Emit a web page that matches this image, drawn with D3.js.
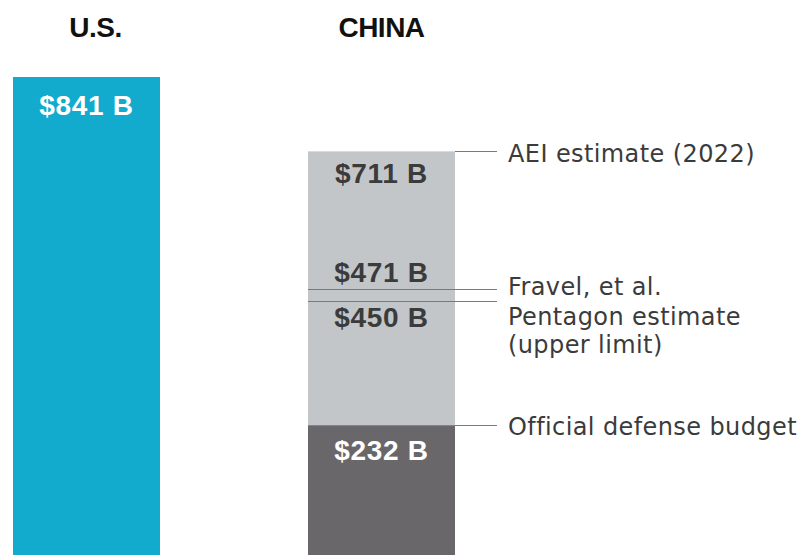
<!DOCTYPE html>
<html>
<head>
<meta charset="utf-8">
<script src="https://cdn.jsdelivr.net/npm/d3@7"></script>
<style>
  html, body { margin: 0; padding: 0; background: #ffffff; }
  svg { display: block; }
</style>
</head>
<body>
<svg id="chart" width="804" height="555"></svg>
<script>
// ---- data ----
const categories = ["U.S.", "CHINA"];
const usValues = [841];
const chinaValues = [711, 471, 450, 232];
const chinaLabels = [["AEI estimate (2022)"], ["Fravel, et al."], ["Pentagon estimate", "(upper limit)"], ["Official defense budget"]];
const chinaLabelKinds = ["edge", "cross", "cross", "edge"];

// ---- layout ----
const W = 804, H = 555;
const svg = d3.select("#chart");
const x = d3.scaleBand().domain(categories).range([13, 455]).paddingInner(0.5017).paddingOuter(0);
const y = d3.scaleLinear().domain([0, 841]).range([558, 77]);

const colUS = "#12abcd", colLight = "#c3c6c9", colDark = "#6a676b";
const txtDark = "#3b3b3b", lineCol = "#7a7a7a";
const fmt = v => "$" + v + " B";

// titles
const titleOffset = { "U.S.": 9, "CHINA": 0 };
svg.selectAll("text.title").data(categories).join("text")
  .attr("class", "title")
  .attr("x", d => x(d) + x.bandwidth() / 2 + titleOffset[d])
  .attr("y", 37)
  .attr("text-anchor", "middle")
  .attr("font-family", "'Liberation Sans', Arial, sans-serif")
  .attr("font-weight", "bold")
  .attr("font-size", 28)
  .attr("letter-spacing", -0.5)
  .attr("fill", "#111")
  .text(d => d);

// US bar
svg.selectAll("rect.us").data(usValues).join("rect")
  .attr("class", "us")
  .attr("x", x("U.S."))
  .attr("width", x.bandwidth())
  .attr("y", d => y(d))
  .attr("height", d => y(0) - y(d))
  .attr("fill", colUS);

// China bars: light full estimate and dark official
const chinaMax = d3.max(chinaValues);
const chinaMin = d3.min(chinaValues);
svg.append("rect")
  .attr("x", x("CHINA")).attr("width", x.bandwidth())
  .attr("y", y(chinaMax)).attr("height", y(0) - y(chinaMax))
  .attr("fill", colLight);
svg.append("rect")
  .attr("x", x("CHINA")).attr("width", x.bandwidth())
  .attr("y", y(chinaMin)).attr("height", y(0) - y(chinaMin))
  .attr("fill", colDark);

// connector lines
const lineEnd = 497;
chinaValues.forEach((v, i) => {
  const kind = chinaLabelKinds[i];
  const x0 = kind === "edge" ? x("CHINA") + x.bandwidth() : x("CHINA");
  svg.append("line")
    .attr("x1", x0).attr("x2", lineEnd)
    .attr("y1", Math.round(y(v)) + 0.5).attr("y2", Math.round(y(v)) + 0.5)
    .attr("stroke", lineCol).attr("stroke-width", 1);
});

// annotation labels
const labelDy = [11, 6, 24, 10];
chinaLabels.forEach((lines, i) => {
  const t = svg.append("text")
    .attr("x", 508)
    .attr("y", y(chinaValues[i]) + labelDy[i])
    .attr("font-family", "'DejaVu Sans', sans-serif")
    .attr("font-size", 24)
    .attr("letter-spacing", 0.4)
    .attr("fill", txtDark);
  lines.forEach((ln, j) => {
    t.append("tspan").attr("x", 508).attr("dy", j === 0 ? 0 : 28).text(ln);
  });
});

// value labels
const valueFont = "'Liberation Sans', Arial, sans-serif";
svg.selectAll("text.usval").data(usValues).join("text")
  .attr("class", "usval")
  .attr("x", x("U.S.") + x.bandwidth() / 2)
  .attr("y", d => y(d) + 38)
  .attr("text-anchor", "middle")
  .attr("font-family", valueFont).attr("font-weight", "bold")
  .attr("font-size", 28).attr("letter-spacing", 0.7)
  .attr("fill", "#ffffff")
  .text(d => fmt(d));

const valDy = [32, -7, 26, 35];
svg.selectAll("text.cnval").data(chinaValues).join("text")
  .attr("class", "cnval")
  .attr("x", x("CHINA") + x.bandwidth() / 2)
  .attr("y", (d, i) => y(d) + valDy[i])
  .attr("text-anchor", "middle")
  .attr("font-family", valueFont).attr("font-weight", "bold")
  .attr("font-size", 28).attr("letter-spacing", 0.7)
  .attr("fill", d => d === chinaMin ? "#ffffff" : txtDark)
  .text(d => fmt(d));
</script>
</body>
</html>
